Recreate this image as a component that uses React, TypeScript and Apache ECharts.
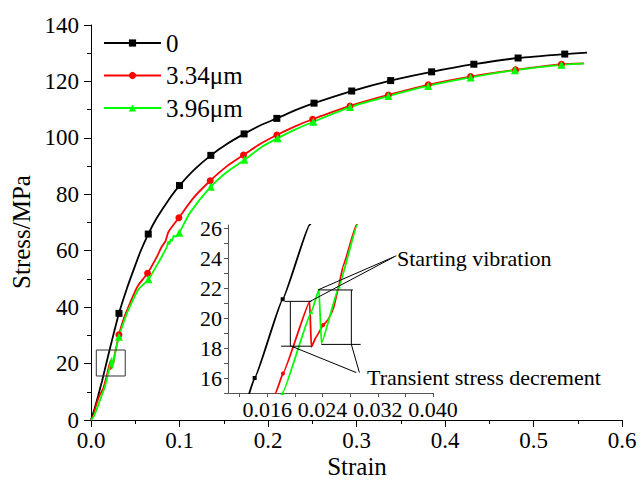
import React, { useEffect, useRef } from "react";
import * as echarts from "echarts";

const FONT = "Liberation Serif";

const seriesNames = ["0", "3.34μm", "3.96μm"];
const seriesColors = ["#000000", "#ff0000", "#00ff00"];
const seriesSymbols = ["rect", "circle", "triangle"];

// [strain, stress MPa]
const curve0: [number, number][] = [
  [0, 0], [0.004, 4.0], [0.008, 8.5], [0.0125, 13.8], [0.01416, 16], [0.01822, 21.25],
  [0.0221, 26.2], [0.0316, 37.8], [0.04, 46.1], [0.048, 53.1], [0.056, 59.8], [0.0647, 65.9],
  [0.073, 70.9], [0.082, 75.3], [0.091, 79.5], [0.1, 83.1], [0.117, 88.8], [0.1354, 93.8],
  [0.154, 97.9], [0.173, 101.4], [0.191, 104.4], [0.21, 106.9], [0.231, 109.8], [0.252, 112.3],
  [0.2946, 116.6], [0.3386, 120.3], [0.3849, 123.4], [0.4326, 126.1], [0.4826, 128.3],
  [0.5353, 129.7], [0.5605, 130.2],
];

const curve334: [number, number][] = [
  [0, 0], [0.0025, 1.5], [0.0052, 4.7], [0.0095, 8.6], [0.0139, 11.2], [0.0172, 15],
  [0.01826, 16.3], [0.02213, 21.09], [0.02237, 18.08], [0.0231, 18.75], [0.0241, 19.53],
  [0.02478, 19.87], [0.0255, 20.53], [0.02623, 21.87], [0.02695, 23.43], [0.0289, 26.2],
  [0.0316, 30.2], [0.0365, 35.4], [0.0422, 40.0], [0.0497, 45.5], [0.0534, 47.8],
  [0.0639, 52.0], [0.0745, 57.9], [0.08, 61.5], [0.0839, 63.2], [0.0876, 66.7],
  [0.0993, 71.7], [0.116, 78.8], [0.1347, 84.8], [0.153, 89.8], [0.1723, 93.9],
  [0.191, 97.8], [0.21, 101.0], [0.23, 104.0], [0.2505, 106.6], [0.2927, 111.3],
  [0.336, 115.2], [0.381, 118.8], [0.4289, 121.7], [0.4797, 124.1], [0.5316, 126.1],
  [0.5568, 126.4],
];

const curve396: [number, number][] = [
  [0, 0], [0.003, 1.2], [0.0075, 4.7], [0.0115, 8.2], [0.0158, 11.9], [0.0182, 15.0],
  [0.02237, 20.4], [0.02348, 21.9], [0.02383, 18.3], [0.02638, 22.1], [0.029, 26.2],
  [0.0316, 29.5], [0.0365, 34.3], [0.0422, 39.0], [0.0534, 46.2], [0.065, 49.9],
  [0.0745, 54.9], [0.081, 58.5], [0.0858, 61.4], [0.0872, 63.2], [0.0885, 62.3],
  [0.09, 64.0], [0.0915, 63.5], [0.0935, 65.3], [0.0955, 65.0], [0.0997, 66.4],
  [0.112, 73.5], [0.1354, 82.7], [0.154, 88.0], [0.1734, 92.2], [0.192, 96.6],
  [0.211, 99.9], [0.231, 103.0], [0.2513, 105.7], [0.2927, 110.9], [0.336, 114.8],
  [0.381, 118.4], [0.4289, 121.4], [0.479, 124.0], [0.5316, 125.9], [0.5568, 126.3],
];

const markers0Main = [0.0316, 0.0647, 0.1, 0.1354, 0.173, 0.21, 0.252, 0.2946, 0.3386, 0.3849, 0.4326, 0.4826, 0.5353];
const markers334Main = [0.0316, 0.0639, 0.0993, 0.1347, 0.1723, 0.21, 0.2505, 0.2927, 0.336, 0.381, 0.4289, 0.4797, 0.5316];
const markers396Main = [0.0316, 0.065, 0.0997, 0.1354, 0.1734, 0.211, 0.2513, 0.2927, 0.336, 0.381, 0.4289, 0.479, 0.5316];

const markers0Inset = [0.01416, 0.01822];
const markers334Inset = [0.01826, 0.0241];
const markers396Inset = [0.0182, 0.02237, 0.02638];

const insetXLabels = [0.016, 0.024, 0.032, 0.04];
const insetXTicks = [0.012, 0.016, 0.02, 0.024, 0.028, 0.032, 0.036, 0.04];
const insetYLabels = [16, 18, 20, 22, 24, 26];
const insetYTicks = [15, 16, 17, 18, 19, 20, 21, 22, 23, 24, 25, 26];

// zoom window drawn on main chart
const zoomBox: [number, number][] = [[0.006, 15.6], [0.0387, 15.6], [0.0387, 24.8], [0.006, 24.8], [0.006, 15.6]];

// annotation line segments in inset coordinates
const annotSegments: [number, number][][] = [
  [[0.0185, 21.11], [0.02238, 21.11]],
  [[0.018, 18.12], [0.02238, 18.12]],
  [[0.01933, 21.11], [0.01933, 18.12]],
  [[0.02348, 21.87], [0.02841, 21.87]],
  [[0.02383, 18.24], [0.02952, 18.24]],
  [[0.02817, 21.87], [0.02817, 18.24]],
  [[0.0343, 24.06], [0.02213, 21.09]],
  [[0.0347, 24.15], [0.02333, 21.87]],
  [[0.0289, 16.36], [0.01948, 18.12]],
  [[0.02934, 16.36], [0.02817, 18.24]],
];

const curves = [curve0, curve334, curve396];
const mainMarkers = [markers0Main, markers334Main, markers396Main];
const insetMarkers = [markers0Inset, markers334Inset, markers396Inset];

function pickPoints(curve: [number, number][], xs: number[]) {
  return xs.map((x) => {
    let best = curve[0];
    for (const p of curve) if (Math.abs(p[0] - x) < Math.abs(best[0] - x)) best = p;
    return best;
  });
}

export default function App() {
  const ref = useRef<HTMLDivElement>(null);
  useEffect(() => {
    if (!ref.current) return;
    const chart = echarts.init(ref.current, undefined, { renderer: "svg" });
    const black = "#000";
    const series: any[] = [];
    curves.forEach((c, i) => {
      series.push({
        type: "line", name: seriesNames[i], xAxisIndex: 0, yAxisIndex: 0, data: c,
        symbol: seriesSymbols[i], symbolSize: 7, showSymbol: false,
        smooth: 0.2,
        lineStyle: { color: seriesColors[i], width: 1.8 }, itemStyle: { color: seriesColors[i] },
        z: 2 + i,
      });
    });
    curves.forEach((c, i) => {
      series.push({
        type: "line", name: seriesNames[i], xAxisIndex: 1, yAxisIndex: 1, data: c,
        symbol: "none", showSymbol: false, smooth: 0.1, smoothMonotone: "x",
        lineStyle: { color: seriesColors[i], width: 1.8 }, itemStyle: { color: seriesColors[i] },
        z: 2 + i,
      });
    });
    curves.forEach((c, i) => {
      series.push({
        type: "scatter", name: seriesNames[i], xAxisIndex: 0, yAxisIndex: 0,
        data: pickPoints(c, mainMarkers[i]), symbol: seriesSymbols[i],
        symbolSize: i === 2 ? 8 : 7, itemStyle: { color: seriesColors[i], opacity: 1 }, z: 5 + i,
      });
      series.push({
        type: "scatter", name: seriesNames[i], xAxisIndex: 1, yAxisIndex: 1,
        data: pickPoints(c, insetMarkers[i]), symbol: seriesSymbols[i],
        symbolSize: 4, itemStyle: { color: seriesColors[i], opacity: 1 }, z: 5 + i,
      });
    });
    series.push({
      type: "line", xAxisIndex: 0, yAxisIndex: 0, data: zoomBox, symbol: "none", silent: true,
      lineStyle: { color: "#333", width: 1 }, z: 8,
    });
    annotSegments.forEach((seg) => {
      series.push({
        type: "line", xAxisIndex: 1, yAxisIndex: 1, data: seg, symbol: "none", silent: true,
        lineStyle: { color: black, width: 1 }, z: 8,
      });
    });

    const tickLabel = { fontFamily: FONT, fontSize: 23, color: black };
    const insetLabel = { fontFamily: FONT, fontSize: 22, color: black };
    const textStyle = (text: string) => ({ text, fontFamily: FONT, fontSize: 22, fill: black, verticalAlign: "middle" });

    chart.setOption({
      animation: false,
      backgroundColor: "#fff",
      textStyle: { fontFamily: FONT },
      grid: [
        { left: 91, right: 19, top: 25, bottom: 60, containLabel: false, outerBoundsMode: "none" },
        { left: 228, top: 225, width: 205, height: 168, containLabel: false, outerBoundsMode: "none" },
      ],
      legend: {
        data: seriesNames, orient: "vertical", left: 103, top: 30, padding: 0,
        itemWidth: 57, itemHeight: 9, itemGap: 6.5,
        textStyle: { fontFamily: FONT, fontSize: 25, color: black, lineHeight: 26 },
      },
      xAxis: [
        {
          type: "value", gridIndex: 0, min: 0, max: 0.6, interval: 0.1,
          axisLine: { show: true, lineStyle: { color: black, width: 1 } },
          axisTick: { show: true, length: 7, lineStyle: { color: black } },
          minorTick: { show: true, splitNumber: 2, length: 4, lineStyle: { color: black } },
          splitLine: { show: false },
          axisLabel: { ...tickLabel, margin: 9, formatter: (v: number) => v.toFixed(1) },
        },
        {
          type: "value", gridIndex: 1, min: 0.0103, max: 0.04,
          axisLine: { show: true, lineStyle: { color: "#555", width: 1 } },
          axisTick: { show: true, length: 4, customValues: insetXTicks, lineStyle: { color: "#555" } },
          splitLine: { show: false },
          axisLabel: { ...insetLabel, margin: 5, customValues: insetXLabels, formatter: (v: number) => v.toFixed(3) },
        },
      ],
      yAxis: [
        {
          type: "value", gridIndex: 0, min: 0, max: 140, interval: 20,
          axisLine: { show: true, lineStyle: { color: black, width: 1 } },
          axisTick: { show: true, length: 7, lineStyle: { color: black } },
          minorTick: { show: true, splitNumber: 2, length: 4, lineStyle: { color: black } },
          splitLine: { show: false },
          axisLabel: { ...tickLabel, margin: 12 },
        },
        {
          type: "value", gridIndex: 1, min: 15, max: 26.2,
          axisLine: { show: true, lineStyle: { color: "#555", width: 1 } },
          axisTick: { show: true, length: 4, customValues: insetYTicks, lineStyle: { color: "#555" } },
          splitLine: { show: false },
          axisLabel: { ...insetLabel, margin: 6, customValues: insetYLabels },
        },
      ],
      graphic: [
        {
          type: "text", x: 357, y: 466,
          style: { text: "Strain", fontFamily: FONT, fontSize: 25, fill: black, align: "center", verticalAlign: "middle" },
        },
        {
          type: "text", x: 21, y: 232, rotation: Math.PI / 2,
          style: { text: "Stress/MPa", fontFamily: FONT, fontSize: 25, fill: black, align: "center", verticalAlign: "middle" },
        },
        { type: "text", x: 397, y: 258, style: textStyle("Starting vibration") },
        { type: "text", x: 367, y: 377, style: textStyle("Transient stress decrement") },
      ],
      series,
    });
    return () => chart.dispose();
  }, []);
  return <div ref={ref} style={{ position: "fixed", left: 0, top: 0, width: 641, height: 480 }} />;
}
